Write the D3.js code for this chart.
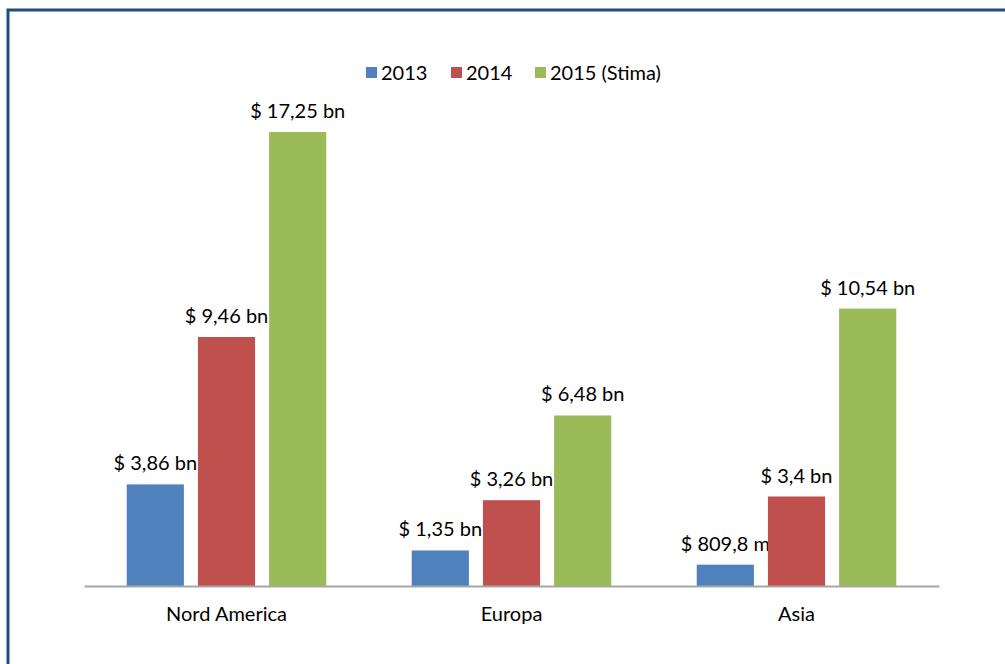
<!DOCTYPE html>
<html>
<head>
<meta charset="utf-8">
<script src="https://cdn.jsdelivr.net/npm/d3@7"></script>
<style>
  body { margin: 0; background: #fff; }
  svg { display: block; }
  text { font-family: Lato, "Open Sans", sans-serif; fill: #000; }
</style>
</head>
<body>
<div id="chart"></div>
<script>
var categories = ["Nord America", "Europa", "Asia"];
var seriesNames = ["2013", "2014", "2015 (Stima)"];
var values2013 = [3.86, 1.35, 0.8098];
var values2014 = [9.46, 3.26, 3.4];
var values2015 = [17.25, 6.48, 10.54];
var labels2013 = ["$ 3,86 bn", "$ 1,35 bn", "$ 809,8 m"];
var labels2014 = ["$ 9,46 bn", "$ 3,26 bn", "$ 3,4 bn"];
var labels2015 = ["$ 17,25 bn", "$ 6,48 bn", "$ 10,54 bn"];

var colors = ["#4f81bd", "#c0504d", "#9bbb59"];

var width = 1005, height = 664;

var svg = d3.select("#chart").append("svg")
  .attr("width", width)
  .attr("height", height);

// cornice blu
svg.append("rect")
  .attr("x", 8).attr("y", 10)
  .attr("width", width + 20).attr("height", height + 20)
  .attr("fill", "none")
  .attr("stroke", "#1f4e79")
  .attr("stroke-width", 3);

var x0 = d3.scaleBand().domain(categories).range([84, 939]);
var x1 = d3.scaleBand().domain(seriesNames).range([0, x0.bandwidth()])
  .paddingInner(0.197).paddingOuter(0.6);
var y = d3.scaleLinear().domain([0, 20]).range([586, 59.6]);

var data = [];
categories.forEach(function(c, i) {
  data.push({cat: c, s: seriesNames[0], v: values2013[i], label: labels2013[i], color: colors[0]});
  data.push({cat: c, s: seriesNames[1], v: values2014[i], label: labels2014[i], color: colors[1]});
  data.push({cat: c, s: seriesNames[2], v: values2015[i], label: labels2015[i], color: colors[2]});
});

// etichette prima delle barre (la barra rossa copre un po' il testo)
svg.selectAll(".lbl").data(data).enter().append("text")
  .attr("class", "lbl")
  .attr("x", function(d) { return x0(d.cat) + x1(d.s) + x1.bandwidth() / 2; })
  .attr("y", function(d) { return y(d.v) - 14; })
  .attr("text-anchor", "middle")
  .style("font-size", "20px")
  .text(function(d) { return d.label; });

svg.selectAll(".bar").data(data).enter().append("rect")
  .attr("class", "bar")
  .attr("x", function(d) { return x0(d.cat) + x1(d.s); })
  .attr("y", function(d) { return y(d.v); })
  .attr("width", x1.bandwidth())
  .attr("height", function(d) { return y(0) - y(d.v); })
  .attr("fill", function(d) { return d.color; });

// asse x
var xAxis = svg.append("g")
  .attr("transform", "translate(0," + y(0) + ")")
  .call(d3.axisBottom(x0).tickSize(0).tickPadding(21));
xAxis.select(".domain").attr("stroke", "#a6a6a6").attr("stroke-width", 2);
xAxis.selectAll("text").style("font-size", "20px")
  .style("font-family", "Lato, 'Open Sans', sans-serif");

// legenda
var legendX = [366, 451, 535];
var legend = svg.selectAll(".leg").data(seriesNames).enter().append("g")
  .attr("class", "leg")
  .attr("transform", function(d, i) { return "translate(" + legendX[i] + ",67)"; });
legend.append("rect").attr("width", 11).attr("height", 11)
  .attr("fill", function(d, i) { return colors[i]; });
legend.append("text").attr("x", 15).attr("y", 13)
  .style("font-size", "20px")
  .text(function(d) { return d; });
</script>
</body>
</html>
